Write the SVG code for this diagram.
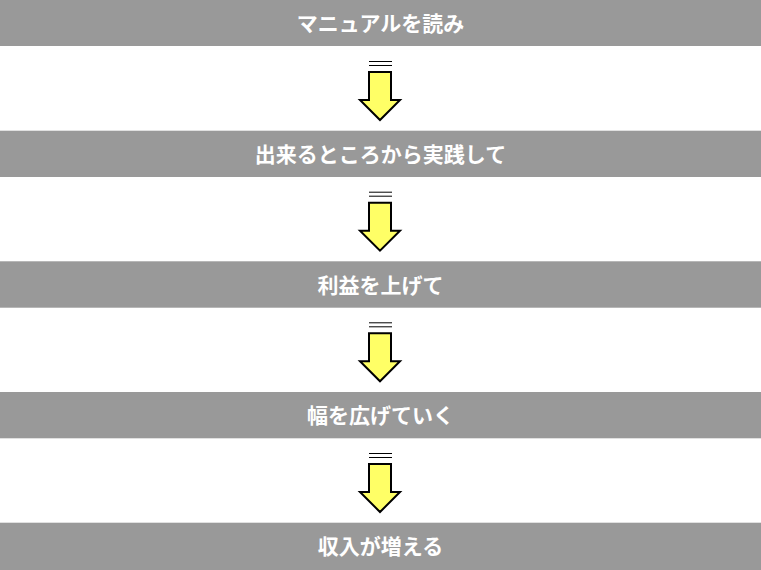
<svg xmlns="http://www.w3.org/2000/svg" width="761" height="570" viewBox="0 0 761 570">
<defs>
<style>
.bar{fill:#999999}
.lbl{fill:#ffffff;font-family:"Noto Sans CJK JP","Noto Sans",sans-serif;font-weight:bold;font-size:21px;text-anchor:middle;dominant-baseline:central}
.arr{fill:#ffff66;stroke:#000000;stroke-width:2;stroke-linejoin:miter}
.ln{stroke:#000000;stroke-width:1}
</style>
<g id="arrow">
<line class="ln" x1="369" y1="61.5" x2="392" y2="61.5"/>
<line class="ln" x1="369" y1="65.5" x2="392" y2="65.5"/>
<path class="arr" d="M369,72 H391 V100 H400 L380,120 L360,100 H369 Z"/>
</g>
</defs>
<g id="node1"><rect class="bar" x="0" y="0" width="761" height="46"/><text class="lbl" x="380.5" y="22">マニュアルを読み</text></g>
<g id="node2"><rect class="bar" x="0" y="130.7" width="761" height="46.3"/><text class="lbl" x="380.5" y="153">出来るところから実践して</text></g>
<g id="node3"><rect class="bar" x="0" y="261.3" width="761" height="46.4"/><text class="lbl" x="380.5" y="283.5">利益を上げて</text></g>
<g id="node4"><rect class="bar" x="0" y="392" width="761" height="46.3"/><text class="lbl" x="380.5" y="414">幅を広げていく</text></g>
<g id="node5"><rect class="bar" x="0" y="522.7" width="761" height="47.3"/><text class="lbl" x="380.5" y="545">収入が増える</text></g>
<g id="connectors">
<use href="#arrow"/>
<use href="#arrow" y="130.7"/>
<use href="#arrow" y="261.3"/>
<use href="#arrow" y="392"/>
</g>
</svg>
